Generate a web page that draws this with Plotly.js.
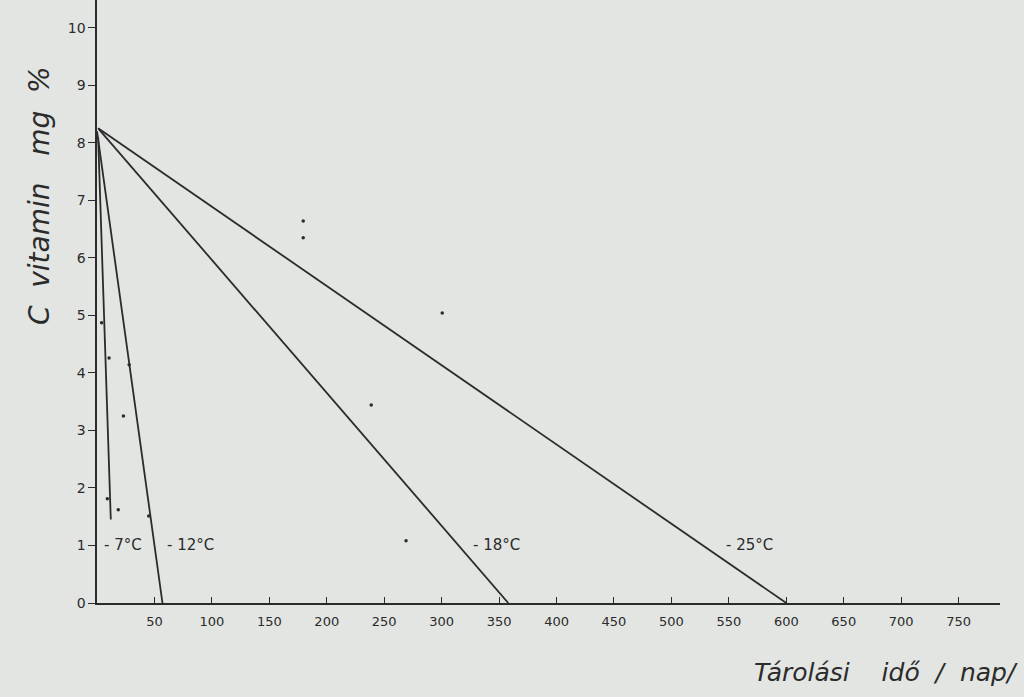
<!DOCTYPE html>
<html><head><meta charset="utf-8">
<script src="https://cdn.plot.ly/plotly-3.0.1.min.js"></script>
<style>html,body{margin:0;padding:0;background:#e3e5e2;}#chart{width:1024px;height:697px;}</style>
</head><body><div id="chart"></div>
<script>
// Series: straight lines of vitamin C loss at storage temperatures
const seriesNames = ['-7°C', '-12°C', '-18°C', '-25°C'];
const startDay = [1, 0, 1, 1];
const startValue = [8.1, 8.2, 8.25, 8.25];
const endDay = [12, 57, 358, 600];
const endValue = [1.45, 0, 0, 0];
// label positions (data) for each series
const labelDay = [23, 81, 348, 568];
const labelValue = [1.0, 1.0, 1.0, 1.0];
// measured dots
const dotDays = [4, 10.5, 23, 28, 9, 18.5, 45, 179.5, 179.5, 300.5, 238.7, 269];
const dotValues = [4.87, 4.26, 3.25, 4.14, 1.81, 1.62, 1.51, 6.64, 6.35, 5.04, 3.44, 1.08];
// ticks
const xTicks = [50, 100, 150, 200, 250, 300, 350, 400, 450, 500, 550, 600, 650, 700, 750];
const yTicks = [0, 1, 2, 3, 4, 5, 6, 7, 8, 9, 10];

const ink = '#2b2b2b';
const traces = seriesNames.map((n, i) => ({
  x: [startDay[i], endDay[i]], y: [startValue[i], endValue[i]],
  mode: 'lines', type: 'scatter', name: n,
  line: {color: ink, width: 1.8}, hoverinfo: 'skip'
}));
traces.push({x: dotDays, y: dotValues, mode: 'markers', type: 'scatter',
  marker: {color: ink, size: 3.5}, name: 'dots'});

const annotations = seriesNames.map((n, i) => ({
  x: labelDay[i], y: labelValue[i], xref: 'x', yref: 'y', text: '- ' + n.slice(1),
  showarrow: false, xanchor: 'center', yanchor: 'middle',
  font: {family: 'DejaVu Sans', size: 15, color: ink}
}));
annotations.push({xref: 'paper', yref: 'paper', x: -0.063, y: 0.675, text: 'C  vitamin   mg  %',
  textangle: -90, showarrow: false, xanchor: 'center', yanchor: 'middle',
  font: {family: 'DejaVu Sans', size: 28, color: ink, style: 'italic'}});
annotations.push({xref: 'paper', yref: 'paper', x: 1.022, y: -0.115, text: 'Tárolási    idő  /  nap/',
  showarrow: false, xanchor: 'right', yanchor: 'middle',
  font: {family: 'DejaVu Sans', size: 25, color: ink, style: 'italic'}});

const layout = {
  width: 1024, height: 697,
  margin: {l: 97, r: 24, t: 0, b: 94},
  paper_bgcolor: '#e3e5e2', plot_bgcolor: '#e3e5e2',
  showlegend: false,
  xaxis: {range: [0, 786], tickvals: xTicks, ticktext: xTicks.map(String),
    ticks: 'inside', ticklen: 6, tickcolor: ink, showline: true, linecolor: ink, linewidth: 1.6,
    ticklabelstandoff: 6,
    showgrid: false, zeroline: false, tickfont: {family: 'DejaVu Sans', size: 13, color: ink}},
  yaxis: {range: [0, 10.48], tickvals: yTicks, ticktext: yTicks.map(String),
    ticks: 'outside', ticklen: 7, tickcolor: ink, showline: true, linecolor: ink, linewidth: 1.6,
    showgrid: false, zeroline: false, tickfont: {family: 'DejaVu Sans', size: 14, color: ink}},
  annotations: annotations
};
Plotly.newPlot('chart', traces, layout, {displayModeBar: false, staticPlot: true});
</script></body></html>
